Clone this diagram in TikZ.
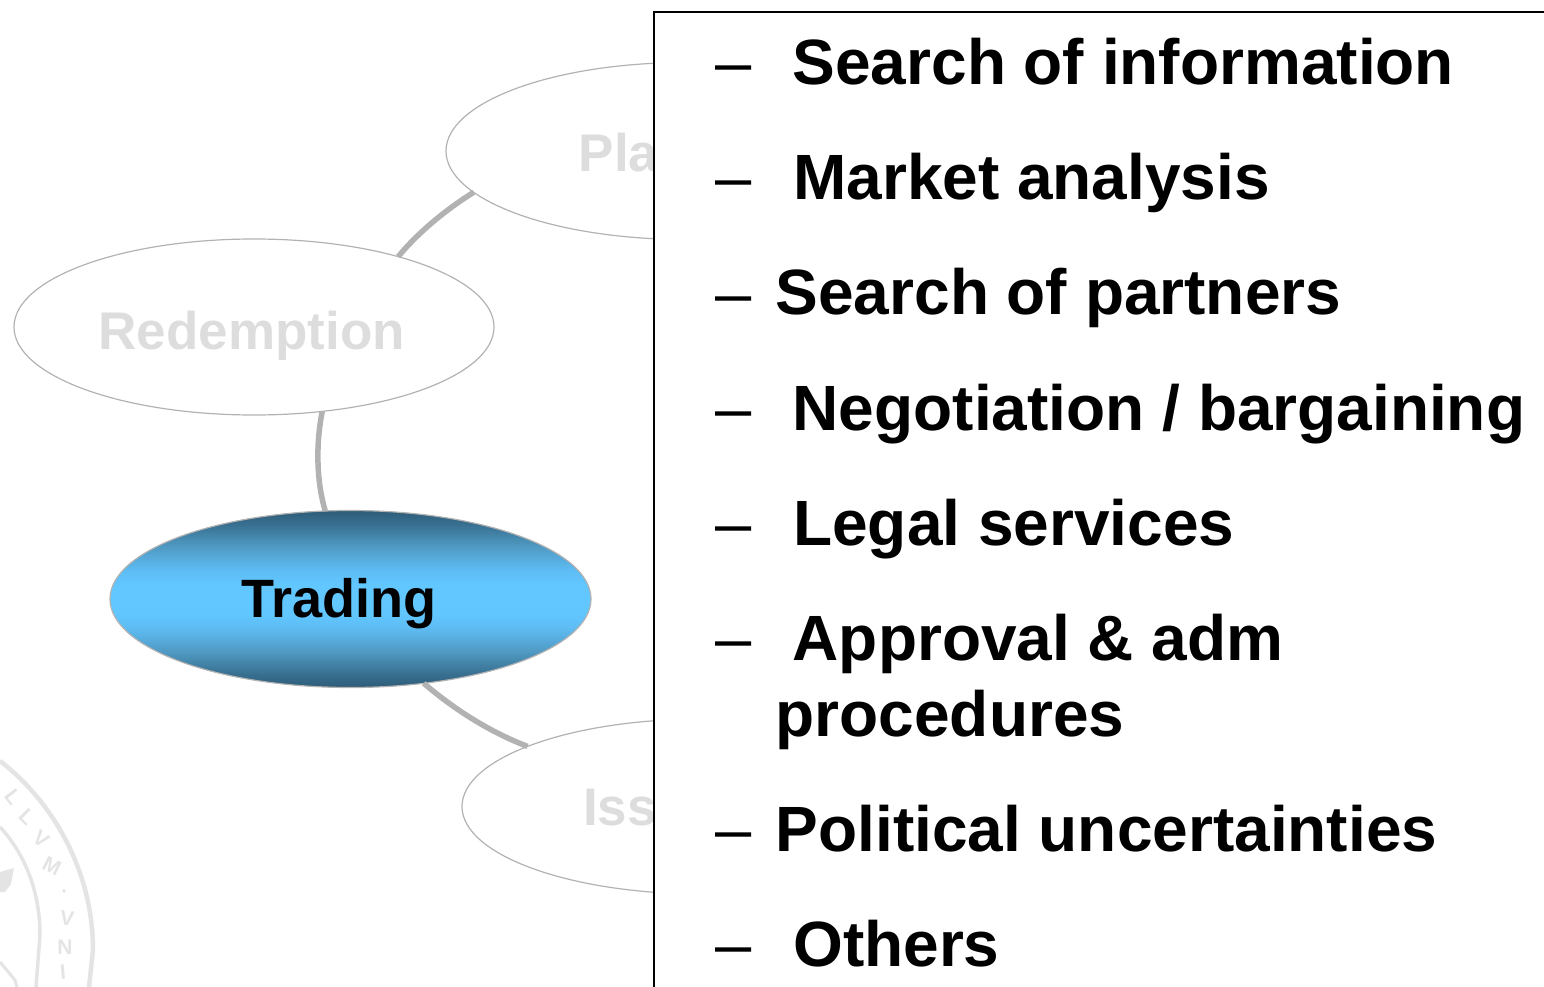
\documentclass[tikz,border=0pt]{standalone}
\usepackage{fontspec}
\setmainfont{Liberation Sans}
\usetikzlibrary{shapes.geometric}
\definecolor{fadetext}{HTML}{DDDDDD}
\definecolor{fadeline}{HTML}{B2B2B2}
\definecolor{linkgrey}{HTML}{B2B2B2}
\definecolor{sealgrey}{HTML}{E4E4E4}
\pgfdeclareverticalshading{tradingshade}{100bp}{
  rgb(0bp)=(0.18,0.36,0.47);
  rgb(25bp)=(0.18,0.36,0.47);
  rgb(29bp)=(0.22,0.44,0.57);
  rgb(35bp)=(0.31,0.60,0.76);
  rgb(42bp)=(0.37,0.74,0.96);
  rgb(46bp)=(0.384,0.78,1);
  rgb(54bp)=(0.384,0.78,1);
  rgb(58bp)=(0.37,0.74,0.96);
  rgb(65bp)=(0.31,0.60,0.76);
  rgb(71bp)=(0.22,0.44,0.57);
  rgb(75bp)=(0.18,0.36,0.47);
  rgb(100bp)=(0.18,0.36,0.47)}
\tikzset{
  x=1pt,y=-1pt,
  phase/.style={ellipse,minimum width=480pt,minimum height=176pt,inner sep=0pt,outer sep=0pt,draw=fadeline,line width=1.2pt},
  link/.style={draw=linkgrey,line width=5.5pt},
  fadelabel/.style={anchor=base west,inner sep=0pt,text=fadetext,font=\fontsize{53}{53}\selectfont\bfseries},
  itemtext/.style={anchor=base west,inner sep=0pt,font=\fontsize{64}{64}\selectfont\bfseries},
  itemdash/.style={anchor=base west,inner sep=0pt,font=\fontsize{65}{65}\selectfont},
  sealarc/.style={draw=sealgrey,line width=4.5pt},
  sealletter/.style={inner sep=0pt,text=sealgrey,font=\fontsize{21}{21}\selectfont\bfseries}
}
\begin{document}
\begin{tikzpicture}
\useasboundingbox (0,0) rectangle (1544,987);
% seal watermark
\begin{scope}
\clip (0,0) rectangle (1544,987);
\draw[sealarc] (0,761) .. controls (52,801) and (93,870) .. (93,950) -- (89,987);
\draw[sealarc,line width=3.5pt] (0,827) .. controls (24,853) and (40,890) .. (40,935) -- (36,987);
\node[sealletter,rotate=-52] (s1) at (13,797) {L};
\node[sealletter,rotate=-45] (s2) at (27,817) {L};
\node[sealletter,rotate=-38] (s3) at (41,839) {V};
\node[sealletter,rotate=-27] (s4) at (52,866) {M};
\node[sealletter,rotate=-14] (s5) at (64,894) {·};
\node[sealletter,rotate=-8] (s6) at (67,918) {V};
\node[sealletter,rotate=0] (s7) at (65,947) {N};
\node[sealletter,rotate=5] (s8) at (63,972) {I};
\fill[sealgrey] (0,872) -- (14,868) -- (11,884) -- (5,892) -- (0,892) -- cycle;
\draw[sealarc,line width=3pt] (0,962) -- (15,980) -- (17,987);
\end{scope}
% phases
\node[phase,minimum height=177pt] (plan) at (686,151) {};
\node[phase] (red) at (254,327) {};
\node[phase,draw=linkgrey,shading=tradingshade,minimum width=481pt,minimum height=177pt] (trade) at (350.5,599) {};
\node[phase,minimum height=175pt] (iss) at (702,806.5) {};
% connectors
\draw[link] (plan.191.2) .. controls (442,212) and (415,236) .. (red.26.2);
\draw[link] (red.-51.8) .. controls (316,442) and (316,480) .. (trade.106.5);
\draw[link] (trade.-49) .. controls (455,710) and (490,732) .. (iss.161);
% phase labels
\node[fadelabel] (pl) at (578.5,172) {Pla};
\node[fadelabel] (rl) at (98.5,349) {Redemption};
\node[fadelabel,text=black,font=\fontsize{54}{54}\selectfont\bfseries] (tl) at (241.5,617.5) {Trading};
\node[fadelabel] (il) at (583,825) {Iss};
% list box
\fill[white] (654,12) rectangle (1544,987);
\coordinate (boxbl) at (654,987);
\coordinate (boxtl) at (654,12);
\coordinate (boxtr) at (1544,12);
\draw[black,line width=1.5pt] (boxbl) -- (boxtl) -- (boxtr);
% list
\node[itemdash] (d1) at (715,85) {–};
\node[itemtext] (t1) at (792.5,85) {Search of information};
\node[itemdash] (d2) at (715,200) {–};
\node[itemtext] (t2) at (793,200) {Market analysis};
\node[itemdash] (d3) at (715,315) {–};
\node[itemtext] (t3) at (775.5,314.5) {Search of partners};
\node[itemdash] (d4) at (715,430) {–};
\node[itemtext] (t4) at (792.5,430) {Negotiation / bargaining};
\node[itemdash] (d5) at (715,545) {–};
\node[itemtext] (t5) at (793,545) {Legal services};
\node[itemdash] (d6) at (715,660) {–};
\node[itemtext] (t6) at (792.5,660) {Approval \& adm};
\node[itemtext] (t6b) at (775.5,736.5) {procedures};
\node[itemdash] (d7) at (715,851) {–};
\node[itemtext] (t7) at (775.5,851) {Political uncertainties};
\node[itemdash] (d8) at (715,966.5) {–};
\node[itemtext] (t8) at (793,966.5) {Others};
\end{tikzpicture}
\end{document}
